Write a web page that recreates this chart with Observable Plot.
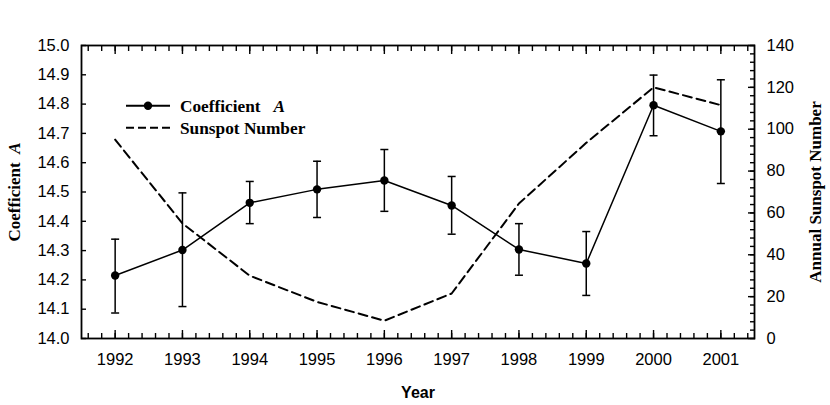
<!DOCTYPE html>
<html>
<head>
<meta charset="utf-8">
<script src="https://cdn.jsdelivr.net/npm/d3@7"></script>
<script src="https://cdn.jsdelivr.net/npm/@observablehq/plot@0.6"></script>
<style>
  html, body { margin: 0; padding: 0; background: #fff; }
  #wrap { position: relative; width: 830px; height: 405px; }
  #legend { position: absolute; left: 0; top: 0; pointer-events: none; }
</style>
</head>
<body>
<div id="wrap"></div>
<script>
// ---- data ----
const years = [1992, 1993, 1994, 1995, 1996, 1997, 1998, 1999, 2000, 2001];
const coefA = [14.215, 14.302, 14.463, 14.509, 14.539, 14.454, 14.304, 14.256, 14.796, 14.707];
const coefHi = [14.339, 14.497, 14.536, 14.605, 14.645, 14.553, 14.392, 14.365, 14.899, 14.883];
const coefLo = [14.087, 14.109, 14.392, 14.413, 14.434, 14.356, 14.216, 14.147, 14.692, 14.529];
const sunspot = [95, 55, 30, 17.5, 8.5, 21.5, 64.5, 93.5, 120, 111.5];

const leftTicks = [14.0, 14.1, 14.2, 14.3, 14.4, 14.5, 14.6, 14.7, 14.8, 14.9, 15.0];
const rightTicks = [0, 20, 40, 60, 80, 100, 120, 140];
const rightMinor = d3.range(0, 141, 4);
const xMinor = d3.range(1991.6, 2001.5, 0.2).map(v => Math.round(v * 10) / 10);

const leftDomain = [14.0, 15.0];
const rightDomain = [0, 140];
// map right-axis (sunspot) values into the left-axis coordinate space
const toLeft = d3.scaleLinear().domain(rightDomain).range(leftDomain);

const data = years.map((year, i) => ({
  year, a: coefA[i], lo: coefLo[i], hi: coefHi[i], sun: toLeft(sunspot[i])
}));

// horizontal cap symbol for error bars
const capSymbol = {
  draw(context, size) {
    const w = Math.sqrt(size / Math.PI);
    context.moveTo(-w, 0);
    context.lineTo(w, 0);
  }
};

const sans = "'Liberation Sans', Arial, Helvetica, sans-serif";
const serif = "'Liberation Serif', 'Times New Roman', serif";

const chart = Plot.plot({
  width: 830,
  height: 405,
  marginLeft: 81,
  marginRight: 76,
  marginTop: 45,
  marginBottom: 67,
  style: { fontFamily: sans, fontSize: "16px", color: "black", background: "white" },
  x: { domain: [1991.5, 2001.5] },
  y: { domain: leftDomain },
  marks: [
    // tick labels
    Plot.axisX(years, { anchor: "bottom", tickSize: 0, tickPadding: 15, tickFormat: d => String(d), fontSize: 16.5, label: "Year", labelArrow: "none", labelAnchor: "center", labelOffset: 59 }),
    Plot.axisY(leftTicks, { anchor: "left", tickSize: 0, tickPadding: 12, tickFormat: d => d.toFixed(1), fontSize: 16.5, label: "Coefficient A", labelArrow: "none", labelAnchor: "center", labelOffset: 74 }),
    Plot.axisY(rightTicks.map(v => toLeft(v)), { anchor: "right", tickSize: 0, tickPadding: 12, tickFormat: (d, i) => String(rightTicks[i]), fontSize: 16.5, label: "Annual Sunspot Number", labelArrow: "none", labelAnchor: "center", labelOffset: 66 }),
    // inward ticks: x bottom/top
    Plot.axisX(years, { anchor: "bottom", tickSize: 8, dy: -8, fill: "none", label: null, strokeWidth: 1.4 }),
    Plot.axisX(xMinor, { anchor: "bottom", tickSize: 5, dy: -5, fill: "none", label: null, strokeWidth: 1.4 }),
    Plot.axisX(years, { anchor: "top", tickSize: 8, dy: 8, fill: "none", label: null, strokeWidth: 1.4 }),
    Plot.axisX(xMinor, { anchor: "top", tickSize: 5, dy: 5, fill: "none", label: null, strokeWidth: 1.4 }),
    // inward ticks: left
    Plot.axisY(leftTicks, { anchor: "left", tickSize: 5, dx: 5, fill: "none", label: null, strokeWidth: 1.4 }),
    // inward ticks: right
    Plot.axisY(rightTicks.map(v => toLeft(v)), { anchor: "right", tickSize: 7, dx: -7, fill: "none", label: null, strokeWidth: 1.4 }),
    Plot.axisY(rightMinor.map(v => toLeft(v)), { anchor: "right", tickSize: 5, dx: -5, fill: "none", label: null, strokeWidth: 1.4 }),
    // sunspot (dashed)
    Plot.line(data, { x: "year", y: "sun", stroke: "black", strokeWidth: 2, strokeDasharray: "9,5" }),
    // coefficient A
    Plot.ruleX(data, { x: "year", y1: "lo", y2: "hi", stroke: "black", strokeWidth: 1.5 }),
    Plot.dot(data, { x: "year", y: "lo", symbol: capSymbol, r: 4, stroke: "black", strokeWidth: 1.5, fill: "none" }),
    Plot.dot(data, { x: "year", y: "hi", symbol: capSymbol, r: 4, stroke: "black", strokeWidth: 1.5, fill: "none" }),
    Plot.line(data, { x: "year", y: "a", stroke: "black", strokeWidth: 1.5 }),
    Plot.dot(data, { x: "year", y: "a", r: 4.2, fill: "black", stroke: "none" }),
    Plot.frame({ stroke: "black", strokeWidth: 1.8 })
  ]
});

// style axis titles (matched by their text)
const svg = d3.select(chart);
svg.selectAll("text").each(function () {
  const t = d3.select(this);
  const s = t.text();
  if (s === "Year") {
    t.style("font-family", sans).style("font-weight", "bold").style("font-size", "16px");
  } else if (s === "Coefficient A") {
    t.style("font-family", serif).style("font-weight", "bold").style("font-size", "17px");
    t.text("Coefficient\u00a0\u00a0");
    t.append("tspan").style("font-style", "italic").text("A");
  } else if (s === "Annual Sunspot Number") {
    t.style("font-family", serif).style("font-weight", "bold").style("font-size", "17px");
  }
});

const wrap = document.getElementById("wrap");
wrap.appendChild(chart);

// legend (inside the plot area, top-left)
const legendItems = [
  { label: "Coefficient", italic: "A", dash: null, dot: true },
  { label: "Sunspot Number", italic: null, dash: "8,4", dot: false }
];
const lg = d3.select(wrap).append("svg").attr("id", "legend")
  .attr("width", 830).attr("height", 405);
legendItems.forEach((it, i) => {
  const y = 105.7 + i * 22;
  lg.append("line").attr("x1", 126).attr("x2", 170).attr("y1", y).attr("y2", y)
    .attr("stroke", "black").attr("stroke-width", 2)
    .attr("stroke-dasharray", it.dash);
  if (it.dot) lg.append("circle").attr("cx", 148).attr("cy", y).attr("r", 4.2).attr("fill", "black");
  const t = lg.append("text").attr("x", 180).attr("y", y + 6)
    .attr("font-family", serif).attr("font-weight", "bold").attr("font-size", 17.3)
    .text(it.label + (it.italic ? "\u00a0\u00a0\u00a0" : ""));
  if (it.italic) t.append("tspan").attr("font-style", "italic").text(it.italic);
});
</script>
</body>
</html>
